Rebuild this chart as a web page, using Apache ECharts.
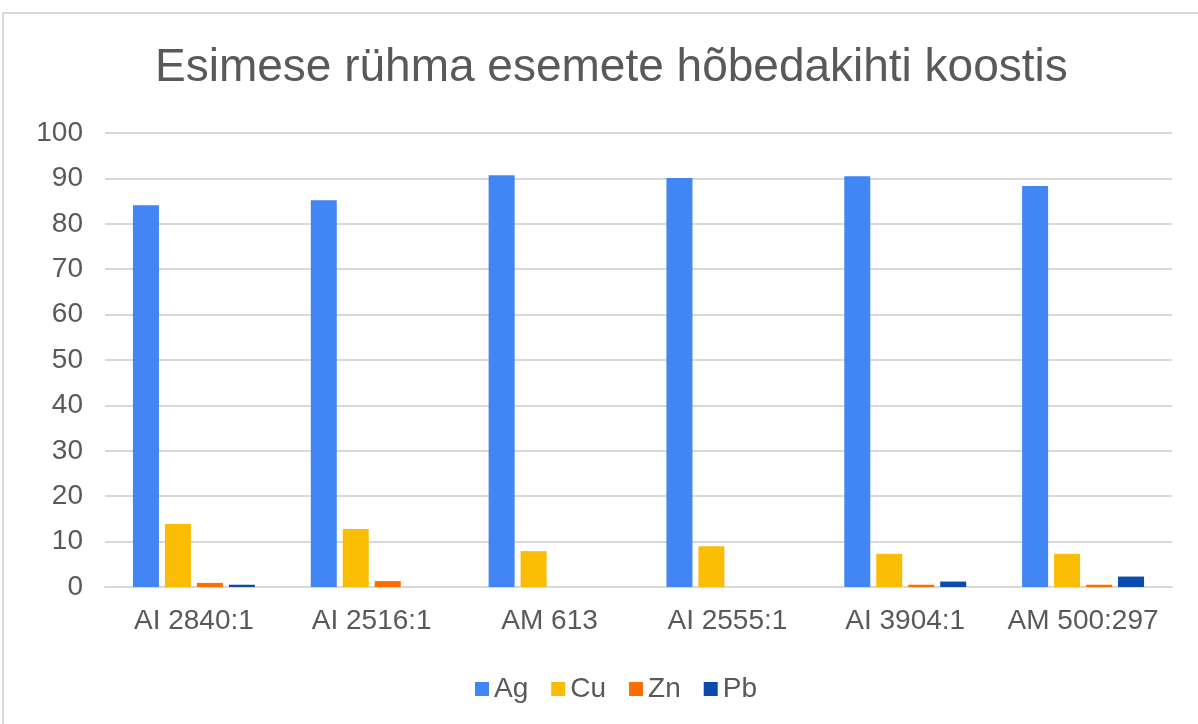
<!DOCTYPE html>
<html>
<head>
<meta charset="utf-8">
<script src="https://cdn.jsdelivr.net/npm/echarts@6/dist/echarts.min.js"></script>
<style>
  html, body { margin: 0; padding: 0; background: #fff; }
  #frame {
    position: absolute; left: 2px; top: 12px; width: 1300px; height: 800px;
    border: 2px solid #d9d9d9; box-sizing: border-box;
  }
  #chart { position: absolute; left: 0; top: 0; width: 1198px; height: 724px; }
</style>
</head>
<body>
<div id="frame"></div>
<div id="chart"></div>
<script>
const categories = ['AI 2840:1', 'AI 2516:1', 'AM 613', 'AI 2555:1', 'AI 3904:1', 'AM 500:297'];
const ag = [84.1, 85.2, 90.7, 90.1, 90.5, 88.3];
const cu = [13.9, 12.8, 7.9, 9.0, 7.3, 7.3];
const zn = [0.9, 1.3, 0, 0, 0.5, 0.5];
const pb = [0.5, 0, 0, 0, 1.2, 2.3];

const seriesNames = ['Ag', 'Cu', 'Zn', 'Pb'];
const seriesData = [ag, cu, zn, pb];
const colors = ['#4285f4', '#fbbc04', '#ff6d01', '#0b4bae'];

const textColor = '#595959';
const font = '"Liberation Sans", Arial, sans-serif';

const chart = echarts.init(document.getElementById('chart'));

const option = {
  animation: false,
  color: colors,
  title: {
    text: 'Esimese rühma esemete hõbedakihti koostis',
    left: 150,
    top: 40,
    textStyle: { color: textColor, fontSize: 46, fontWeight: 'normal', fontFamily: font }
  },
  legend: {
    top: 670,
    left: 470,
    itemWidth: 14,
    itemHeight: 14,
    itemGap: 23,
    icon: 'rect',
    textStyle: { color: textColor, fontSize: 28, fontFamily: font }
  },
  grid: { left: 105, right: 26, top: 133, bottom: 137 },
  xAxis: {
    type: 'category',
    data: categories,
    axisTick: { show: false },
    axisLine: { lineStyle: { color: '#d9d9d9', width: 2 } },
    axisLabel: { color: textColor, fontSize: 28, fontFamily: font, margin: 20, interval: 0 }
  },
  yAxis: {
    type: 'value',
    min: 0,
    max: 100,
    interval: 10,
    axisLabel: { color: textColor, fontSize: 28, fontFamily: font, margin: 22 },
    splitLine: { lineStyle: { color: '#d9d9d9', width: 2 } }
  },
  series: seriesNames.map((name, i) => ({
    name: name,
    type: 'bar',
    data: seriesData[i],
    barWidth: 26,
    barGap: '23%'
  }))
};

chart.setOption(option);
</script>
</body>
</html>
